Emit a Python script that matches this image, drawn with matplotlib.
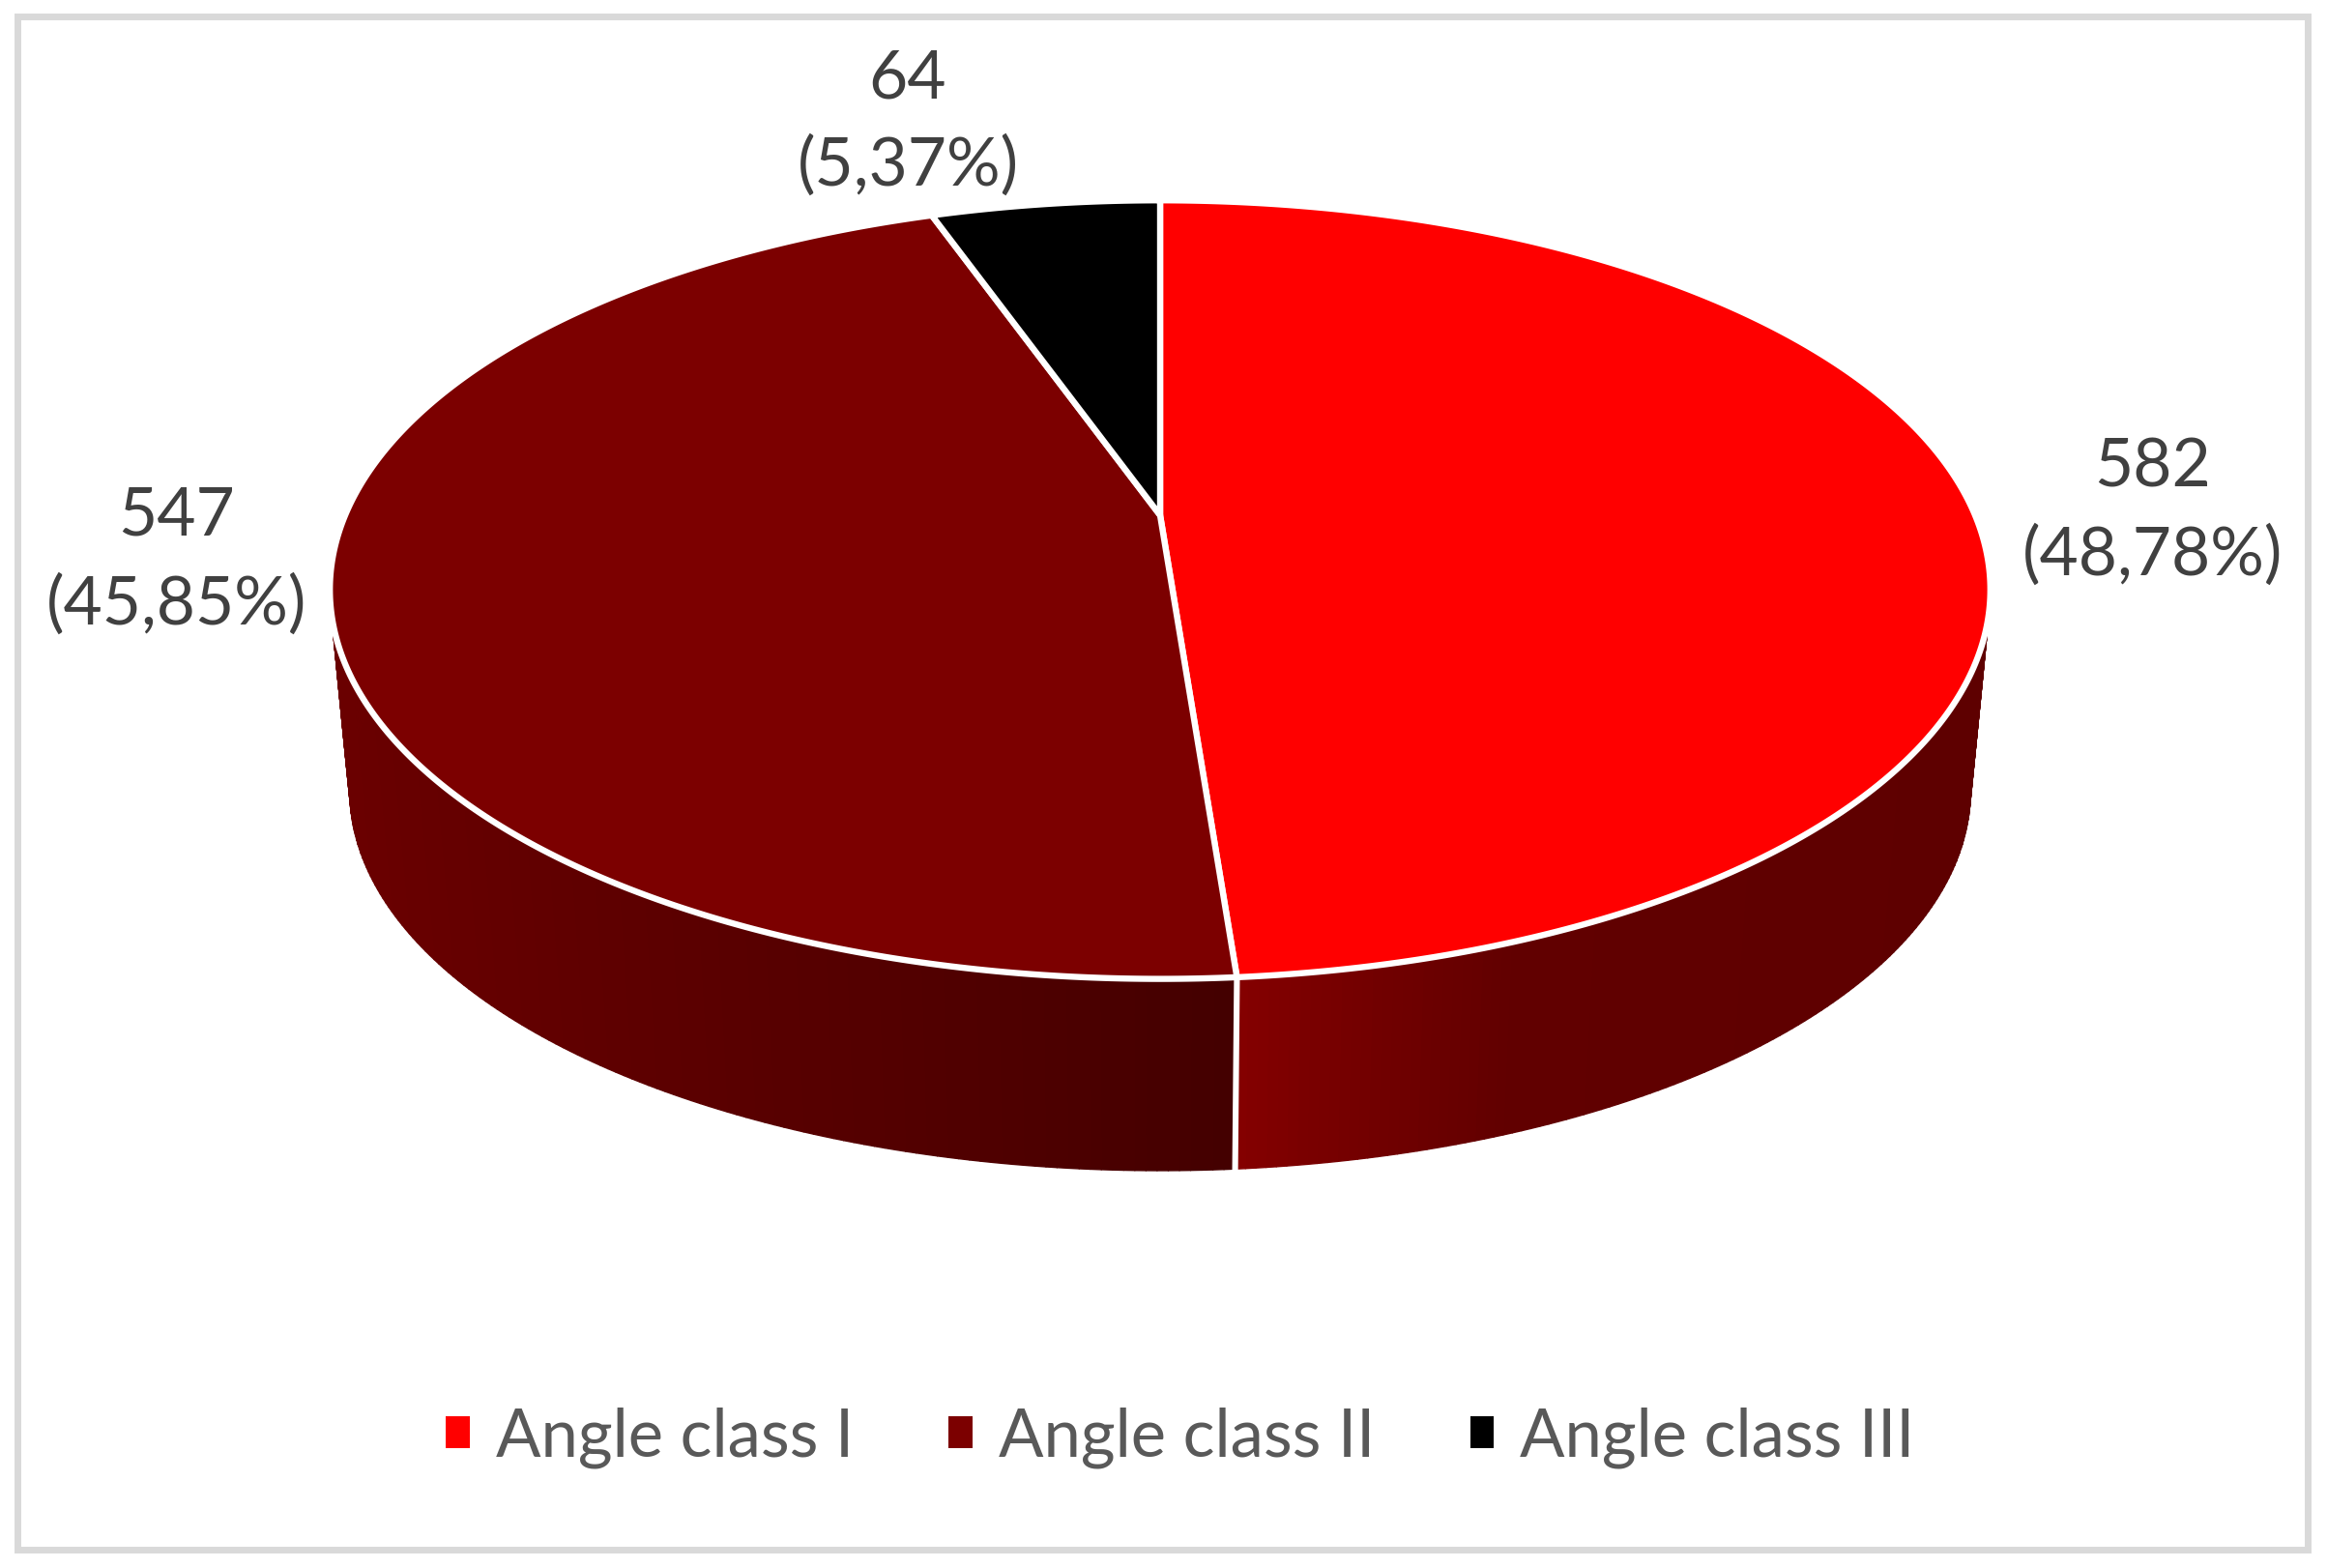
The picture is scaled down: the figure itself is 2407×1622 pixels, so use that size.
import numpy as np
import matplotlib
matplotlib.use("Agg")
import matplotlib.pyplot as plt
from matplotlib.patches import Patch, Rectangle, Polygon
from matplotlib.collections import PolyCollection
from matplotlib.colors import LinearSegmentedColormap

categories = ["Angle class I", "Angle class II", "Angle class III"]
counts = [582, 547, 64]
percent_labels = ["48,78%", "45,85%", "5,37%"]
colors = ["#FF0000", "#7C0000", "#000000"]

plt.rcParams["font.family"] = ["Lato", "DejaVu Sans"]
W, H = 2407, 1622
fig = plt.figure(figsize=(W / 100, H / 100), dpi=100, facecolor="white")
ax = fig.add_axes([0, 0, 1, 1])
ax.set_xlim(0, W)
ax.set_ylim(H, 0)
ax.axis("off")

# frame
ax.add_patch(Rectangle((17.5, 16.5), 2369, 1586, fill=False, ec="#D9D9D9", lw=5))

# perspective projection of the unit disc
X0, Y0 = 1200, 533
A, B, C = 843, 388, 0.191
CY_TOP, CY_BOT, K, CX = 610, 818, 0.976, 1201


def top(theta):
    d = 1 + C * np.cos(theta)
    return X0 + A * np.sin(theta) / d, Y0 - B * np.cos(theta) / d


def bottom(theta):
    x, y = top(theta)
    return CX + K * (x - CX), CY_BOT + K * (y - CY_TOP)


fractions = np.array(counts) / np.sum(counts)
edges = np.concatenate([[0], np.cumsum(fractions)]) * 2 * np.pi

cmap_right = LinearSegmentedColormap.from_list("r", [(0, "#5E0000"), (0.62, "#610000"), (0.9, "#7A0000"), (1, "#850000")])
cmap_left = LinearSegmentedColormap.from_list("l", [(0, "#440000"), (0.3, "#500000"), (0.7, "#5E0000"), (1, "#6A0000")])

J = edges[1]
polys, cols = [], []
for t0, t1, side in [(np.radians(55), J, "r"), (J, np.radians(305), "l")]:
    ts = np.linspace(t0, t1, 200)
    for a, b in zip(ts[:-1], ts[1:]):
        xa, ya = top(a); xb, yb = top(b)
        xc, yc = bottom(b); xd, yd = bottom(a)
        polys.append([(xa, ya), (xb, yb), (xc, yc), (xd, yd)])
        if side == "r":
            cols.append(cmap_right(np.clip(1 - (xa - 1280) / (2050 - 1280), 0, 1)))
        else:
            cols.append(cmap_left(np.clip((1280 - xa) / (1280 - 350), 0, 1)))
ax.add_collection(PolyCollection(polys, facecolors=cols, edgecolors=cols, linewidths=1.0, zorder=2))

# white seam on the side at the junction
xj0, yj0 = top(J)
xj1, yj1 = bottom(J)
ax.plot([xj0, xj1], [yj0, yj1 + 3], color="white", lw=4.4, zorder=3, solid_capstyle="butt")

# top faces
for s, e, col in zip(edges[:-1], edges[1:], colors):
    ts = np.linspace(s, e, 300)
    x, y = top(ts)
    pts = np.column_stack([np.r_[X0, x], np.r_[Y0, y]])
    ax.add_patch(Polygon(pts, closed=True, fc=col, ec="white", lw=4.6, joinstyle="round", zorder=4))

# data labels
label_pos = [(2227, 503, 595), (183, 554, 646), (939, 101, 192)]
for n, p, (x, y1, y2) in zip(counts, percent_labels, label_pos):
    ax.text(x, y1, str(n), ha="center", va="baseline", fontsize=50, color="#404040", zorder=5)
    ax.text(x, y2, f"({p})", ha="center", va="baseline", fontsize=50, color="#404040", zorder=5)

handles = [Patch(fc=c, ec="none") for c in colors]
leg = ax.legend(handles, categories, ncol=3, loc="center", bbox_to_anchor=(1221, 1487),
                bbox_transform=ax.transData, frameon=False, fontsize=49.5,
                labelcolor="#595959", handlelength=0.36, handleheight=0.36,
                handletextpad=0.39, columnspacing=1.43, borderpad=0, borderaxespad=0)

fig.savefig("out.png", dpi=100, facecolor="white")
